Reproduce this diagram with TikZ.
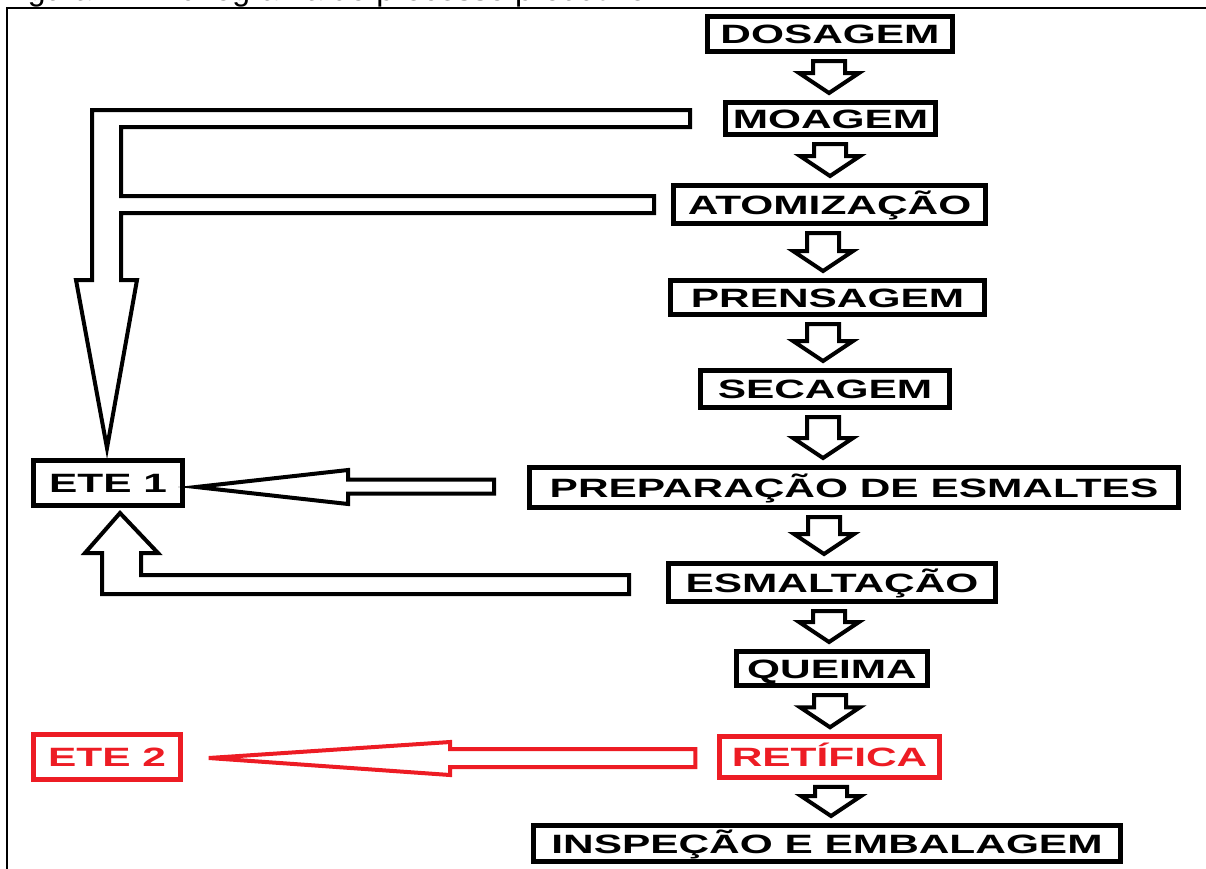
\documentclass[tikz,border=0pt]{standalone}
\usepackage{fontspec}
\setmainfont{Liberation Sans}
\usetikzlibrary{calc}
\definecolor{fred}{RGB}{237,28,36}
\newcommand\wtext[1]{\scalebox{1.6}[1]{#1}}
\newcommand\darr[3]{%
  \draw[barrow] let \p1=(#1.south), \p2=(#2.north) in
    (#3pt-16pt,\y1-7pt) -- (#3pt+16pt,\y1-7pt) -- (#3pt+16pt,\y2+27pt) -- (#3pt+30pt,\y2+27pt)
    -- (#3pt,\y2+7pt) -- (#3pt-30pt,\y2+27pt) -- (#3pt-16pt,\y2+27pt) -- cycle;}
\begin{document}
\begin{tikzpicture}[x=1pt,y=-1pt,
  box/.style={draw, line width=5pt, inner sep=0pt, text height=19pt, text depth=0pt,
    font=\fontsize{26.5}{30}\selectfont\bfseries},
  redbox/.style={box, draw=fred, text=fred, line width=4.5pt},
  barrow/.style={draw, line width=4pt, line join=miter, fill=white},
  redarrow/.style={barrow, draw=fred}]
\useasboundingbox (0,0) rectangle (1206,868);
% caption (cut off at the top)
\begin{scope}
  \clip (0,0) rectangle (1206,7);
  \node[anchor=base west, inner sep=0pt, font=\fontsize{32}{36}\selectfont] (cap) at (1,0.5)
    {Figura 1 – Fluxograma do processo produtivo};
\end{scope}
% frame
\draw[line width=2.5pt] (7,875) -- (7,8) -- (1210,8);
% boxes
\node[box, minimum width=245, minimum height=35] (dos) at (830,34) {\wtext{DOSAGEM}};
\node[box, minimum width=210, minimum height=32] (moa) at (830.5,118.5) {\wtext{MOAGEM}};
\node[box, minimum width=312, minimum height=38] (ato) at (829.5,204.5) {\wtext{ATOMIZAÇÃO}};
\node[box, minimum width=314, minimum height=34] (pre) at (827.5,297.5) {\wtext{PRENSAGEM}};
\node[box, minimum width=249, minimum height=37] (sec) at (825,389) {\wtext{SECAGEM}};
\node[box, minimum width=649, minimum height=40] (prep) at (854,487.5) {\wtext{PREPARAÇÃO DE ESMALTES}};
\node[box, minimum width=327, minimum height=38] (esm) at (832,582.5) {\wtext{ESMALTAÇÃO}};
\node[box, minimum width=191, minimum height=34] (que) at (832,668.5) {\wtext{QUEIMA}};
\node[redbox, minimum width=220, minimum height=41] (ret) at (829.5,757) {\wtext{RETÍFICA}};
\node[box, minimum width=587, minimum height=36] (ins) at (827,843.5) {\wtext{INSPEÇÃO E EMBALAGEM}};
\node[box, minimum width=149, minimum height=45] (ete1) at (108,483) {\wtext{ETE 1}};
\node[redbox, minimum width=147, minimum height=45] (ete2) at (107,757) {\wtext{ETE 2}};
% vertical block arrows
\darr{dos}{moa}{829}
\darr{moa}{ato}{830}
\darr{ato}{pre}{823}
\darr{pre}{sec}{823}
\darr{sec}{prep}{823}
\darr{prep}{esm}{824}
\darr{esm}{que}{829}
\darr{que}{ret}{830}
\darr{ret}{ins}{831}
% pipe from MOAGEM and ATOMIZACAO to ETE 1
\draw[barrow] ($(moa.west)+(-33,-8.5)$) -| (92,280) -- (76,280) -- ($(ete1.north)+(-1,-10)$)
  -- (137,280) -- (121,280) |- ($(ato.west)+(-17,8.5)$) -- ($(ato.west)+(-17,-8.5)$)
  -| (121,127) -- ($(moa.west)+(-33,8.5)$) -- cycle;
% PREPARACAO -> ETE 1
\draw[barrow] ($(prep.west)+(-33,-8)$) -- (348,479.5) -- (348,470) -- ($(ete1.east)+(11,4)$)
  -- (348,504) -- (348,493.5) -- ($(prep.west)+(-33,6)$) -- cycle;
% ESMALTACAO -> ETE 1
\draw[barrow] ($(esm.west)+(-37,-7.5)$) -| (141,553) -- (158,553) -- ($(ete1.south)+(12,5)$)
  -- (85,553) -- (102,553) |- ($(esm.west)+(-37,11.5)$) -- cycle;
% RETIFICA -> ETE 2
\draw[redarrow] ($(ret.west)+(-22,-8)$) -- (450,749) -- (450,742) -- ($(ete2.east)+(26,1)$)
  -- (450,775) -- (450,767) -- ($(ret.west)+(-22,10)$) -- cycle;
\end{tikzpicture}
\end{document}
